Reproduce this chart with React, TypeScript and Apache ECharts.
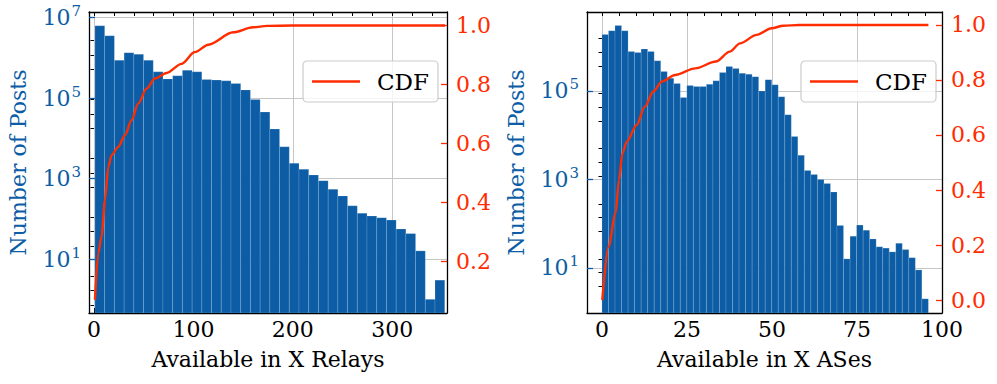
import React, { useEffect, useRef } from 'react';
import * as echarts from 'echarts';

// ---------- data: left panel (relays) ----------
const relayBinStart = 1;
const relayBinWidth = 9.77;
const relayCounts = [
  6.3e6, 3.55e6, 8.7e5, 1.35e6, 1.23e6, 8.7e5, 4.5e5, 3.0e5, 3.6e5, 4.9e5,
  4.5e5, 2.9e5, 2.8e5, 2.7e5, 2.3e5, 1.6e5, 9.3e4, 4.5e4, 1.7e4, 6200,
  2400, 1700, 1230, 890, 540, 370, 210, 138, 117, 107,
  93, 56, 43, 16, 1, 3,
];
const relayCdfX = [1, 4.3, 7.6, 11.1, 14.4, 17.7, 24.4, 31.2, 37.8, 44.5, 52.9, 61.3, 73, 88, 101.5, 115, 140, 160, 174, 200, 353];
const relayCdfY = [0.069, 0.227, 0.284, 0.408, 0.52, 0.56, 0.588, 0.628, 0.679, 0.735, 0.786, 0.82, 0.839, 0.87, 0.91, 0.935, 0.977, 0.994, 0.999, 1.0, 1.0];
const relayXTicks = [0, 100, 200, 300];
const relayXMinor = [0, 20, 40, 60, 80, 100, 120, 140, 160, 180, 200, 220, 240, 260, 280, 300, 320, 340];
const relayLogTicks = [1, 3, 5, 7];
const relayCdfTicks = [0.2, 0.4, 0.6, 0.8, 1.0];
const relayCdfMinor = [0.05, 0.1, 0.15, 0.25, 0.3, 0.35, 0.45, 0.5, 0.55, 0.65, 0.7, 0.75, 0.85, 0.9, 0.95];

// ---------- data: right panel (ASes) ----------
const asBinStart = 0;
const asBinWidth = 1.92;
const asCounts = [
  1.9e6, 2.3e6, 3.0e6, 2.3e6, 7.8e5, 7.4e5, 8.9e5, 7.8e5, 4.8e5, 2.75e5,
  1.95e5, 1.48e5, 7.1e4, 1.32e5, 1.26e5, 1.26e5, 1.41e5, 1.7e5, 2.6e5, 3.55e5,
  3.2e5, 2.5e5, 2.4e5, 2.1e5, 1.0e5, 1.8e5, 1.38e5, 7.4e4, 2.9e4, 9300,
  3500, 1600, 1300, 1000, 810, 520, 91, 16, 52, 93,
  71, 45, 30, 28, 23, 36, 26, 17, 9, 2,
];
const asCdfX = [0.1, 1.9, 4.0, 5.0, 6.0, 7.3, 10.2, 12.6, 15.1, 17.6, 21.5, 27.4, 33.5, 37.6, 40.6, 45.5, 49.9, 53.3, 58, 96];
const asCdfY = [0.0, 0.194, 0.315, 0.436, 0.533, 0.576, 0.636, 0.703, 0.758, 0.794, 0.818, 0.842, 0.867, 0.903, 0.933, 0.964, 0.988, 0.997, 1.0, 1.0];
const asXTicks = [0, 25, 50, 75, 100];
const asXMinor = [0, 5, 10, 15, 20, 25, 30, 35, 40, 45, 50, 55, 60, 65, 70, 75, 80, 85, 90, 95, 100];
const asLogTicks = [1, 3, 5];
const asCdfTicks = [0.0, 0.2, 0.4, 0.6, 0.8, 1.0];
const asCdfMinor = [0.05, 0.1, 0.15, 0.25, 0.3, 0.35, 0.45, 0.5, 0.55, 0.65, 0.7, 0.75, 0.85, 0.9, 0.95];

const FONT = 'DejaVu Serif';
const BLUE = '#0C5DA5';
const RED = '#FF2C00';
const GRIDC = '#c6c6c6';
const FS = 22;

type Panel = {
  grid: { left: number; top: number; width: number; height: number };
  xMin: number; xMax: number; xName: string; xTicks: number[]; xMinor: number[];
  logMin: number; logMax: number; logTicks: number[];
  cdfMin: number; cdfMax: number; cdfTicks: number[]; cdfMinor: number[];
  binStart: number; binWidth: number; counts: number[];
  cdfX: number[]; cdfY: number[];
  legendLeft: number;
};

const panels: Panel[] = [
  {
    grid: { left: 89, top: 12, width: 358, height: 301 },
    xMin: -5, xMax: 355, xName: 'Available in X Relays', xTicks: relayXTicks, xMinor: relayXMinor,
    logMin: -0.34, logMax: 7.14, logTicks: relayLogTicks,
    cdfMin: 0.024, cdfMax: 1.046, cdfTicks: relayCdfTicks, cdfMinor: relayCdfMinor,
    binStart: relayBinStart, binWidth: relayBinWidth, counts: relayCounts,
    cdfX: relayCdfX, cdfY: relayCdfY, legendLeft: 303,
  },
  {
    grid: { left: 587, top: 12, width: 355, height: 301 },
    xMin: -4.4, xMax: 100, xName: 'Available in X ASes', xTicks: asXTicks, xMinor: asXMinor,
    logMin: -0.02, logMax: 6.785, logTicks: asLogTicks,
    cdfMin: -0.047, cdfMax: 1.047, cdfTicks: asCdfTicks, cdfMinor: asCdfMinor,
    binStart: asBinStart, binWidth: asBinWidth, counts: asCounts,
    cdfX: asCdfX, cdfY: asCdfY, legendLeft: 801,
  },
];

function buildOption() {
  const grid: any[] = [];
  const xAxis: any[] = [];
  const yAxis: any[] = [];
  const series: any[] = [];
  const legend: any[] = [];

  panels.forEach((p, g) => {
    grid.push({ ...p.grid, show: false });
    const xi = xAxis.length;
    xAxis.push({
      type: 'value', gridIndex: g, min: p.xMin, max: p.xMax, position: 'bottom',
      axisLine: { show: true, onZero: false, lineStyle: { color: '#000', width: 1.3 } },
      axisTick: { show: true, inside: true, length: 5, customValues: p.xTicks, lineStyle: { color: '#000', width: 1 } },
      axisLabel: { customValues: p.xTicks, color: '#000', fontFamily: FONT, fontSize: FS, margin: 5, formatter: (v: number) => String(v) },
      splitLine: { show: true, lineStyle: { color: GRIDC, width: 1 } },
      name: p.xName, nameLocation: 'middle', nameGap: 35,
      nameTextStyle: { color: '#000', fontFamily: FONT, fontSize: FS },
    });
    xAxis.push({
      type: 'value', gridIndex: g, min: p.xMin, max: p.xMax, position: 'top',
      axisLine: { show: true, onZero: false, lineStyle: { color: '#000', width: 1.3 } },
      axisTick: { show: true, inside: true, length: 4, customValues: p.xMinor, lineStyle: { color: '#000', width: 1 } },
      axisLabel: { show: false },
      splitLine: { show: false },
    });
    const yi = yAxis.length;
    yAxis.push({
      type: 'value', gridIndex: g, min: p.logMin, max: p.logMax, position: 'left',
      axisLine: { show: true, onZero: false, lineStyle: { color: '#000', width: 1.3 } },
      axisTick: { show: true, inside: true, length: 6, customValues: p.logTicks, lineStyle: { color: BLUE, width: 1.3 } },
      axisLabel: {
        customValues: p.logTicks, margin: 8,
        formatter: (v: number) => `{b|10}{s|${Math.round(v)}}`,
        rich: {
          b: { color: BLUE, fontFamily: FONT, fontSize: FS, lineHeight: 22, verticalAlign: 'bottom' },
          s: { color: BLUE, fontFamily: FONT, fontSize: 15, lineHeight: 15, padding: [0, 0, 10, 1], verticalAlign: 'bottom' },
        },
      },
      splitLine: { show: true, lineStyle: { color: GRIDC, width: 1 } },
      name: 'Number of Posts', nameLocation: 'middle', nameGap: 60,
      nameTextStyle: { color: BLUE, fontFamily: FONT, fontSize: FS },
    });
    const ci = yAxis.length;
    yAxis.push({
      type: 'value', gridIndex: g, min: p.cdfMin, max: p.cdfMax, position: 'right', z: 5,
      axisLine: { show: true, onZero: false, lineStyle: { color: '#000', width: 1.3 } },
      axisTick: { show: true, inside: true, length: 6, customValues: p.cdfTicks, lineStyle: { color: RED, width: 1.3 } },
      axisLabel: { customValues: p.cdfTicks, color: RED, fontFamily: FONT, fontSize: FS, margin: 9, formatter: (v: number) => v.toFixed(1) },
      splitLine: { show: false },
    });
    yAxis.push({
      type: 'value', gridIndex: g, min: p.cdfMin, max: p.cdfMax, position: 'right', z: 5,
      axisLine: { show: false },
      axisTick: { show: true, inside: true, length: 3.5, customValues: p.cdfMinor, lineStyle: { color: '#000', width: 1 } },
      axisLabel: { show: false },
      splitLine: { show: false },
    });

    const yBottom = p.logMin;
    series.push({
      type: 'custom', xAxisIndex: xi, yAxisIndex: yi, clip: true, z: 2,
      encode: { x: [0, 1], y: 2 },
      data: p.counts.map((c, i) => [p.binStart + i * p.binWidth, p.binStart + (i + 1) * p.binWidth, Math.log10(c)]),
      renderItem: (_params: any, api: any) => {
        const a = api.coord([api.value(0), api.value(2)]);
        const b = api.coord([api.value(1), yBottom]);
        return {
          type: 'rect',
          shape: { x: a[0], y: a[1], width: b[0] - a[0], height: b[1] - a[1] },
          style: { fill: BLUE, stroke: 'rgba(255,255,255,0.18)', lineWidth: 0.8 },
        };
      },
    });
    series.push({
      type: 'line', name: 'CDF', xAxisIndex: xi, yAxisIndex: ci, z: 3,
      data: p.cdfX.map((x, i) => [x, p.cdfY[i]]),
      symbol: 'none', showSymbol: false, smooth: 0.3, smoothMonotone: 'x',
      lineStyle: { color: RED, width: 2.4 }, itemStyle: { color: RED },
    });
    legend.push({
      left: p.legendLeft, top: 61, orient: 'horizontal', selectedMode: false,
      data: [{ name: 'CDF', icon: 'rect' }],
      itemWidth: 48, itemHeight: 2.5,
      textStyle: { fontFamily: FONT, fontSize: 23, color: '#000', padding: [0, 0, 0, 12], lineHeight: 25 },
      padding: [8, 9, 8, 9],
      backgroundColor: 'rgba(255,255,255,0.8)', borderColor: '#cccccc', borderWidth: 1.2, borderRadius: 4,
    });
  });

  return { animation: false, backgroundColor: '#ffffff', grid, xAxis, yAxis, series, legend };
}

export default function App() {
  const ref = useRef<HTMLDivElement>(null);
  useEffect(() => {
    if (!ref.current) return;
    const chart = echarts.init(ref.current, undefined, { renderer: 'svg' });
    chart.setOption(buildOption() as any);
    return () => chart.dispose();
  }, []);
  return <div ref={ref} style={{ position: 'fixed', left: 0, top: 0, width: 997, height: 384, background: '#fff' }} />;
}
